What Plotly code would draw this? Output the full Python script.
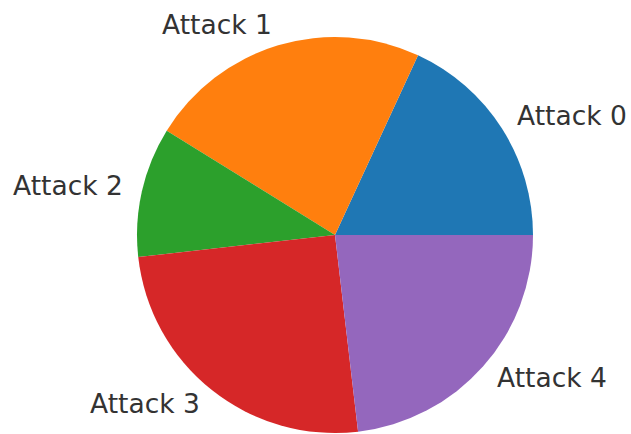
import math
import plotly.graph_objects as go

labels = ["Attack 0", "Attack 1", "Attack 2", "Attack 3", "Attack 4"]
values = [65.2, 83.0, 38.2, 90.3, 83.3]
colors = ["#1f77b4", "#ff7f0e", "#2ca02c", "#d62728", "#9467bd"]

W, H = 631, 434
cx, cy, r = 335, 235, 198

total = sum(values)
# plotly (counterclockwise): rotation marks the end of first slice
rot = 90 - 360 * values[0] / total

fig = go.Figure(go.Pie(
    labels=labels, values=values, sort=False, direction="counterclockwise",
    rotation=rot, marker=dict(colors=colors, line=dict(width=0)),
    textinfo="none", hoverinfo="label+percent", showlegend=False,
    domain=dict(x=[(cx - r) / W, (cx + r) / W], y=[(H - cy - r) / H, (H - cy + r) / H]),
))

acc = 0
anns = []
for lab, v in zip(labels, values):
    mid = (acc + v / 2) / total * 2 * math.pi
    acc += v
    px = cx + 1.1 * r * math.cos(mid)
    py = (H - cy) + 1.1 * r * math.sin(mid)
    right = math.cos(mid) > 0
    anns.append(dict(x=px / W, y=py / H, xref="paper", yref="paper", text=lab,
                     showarrow=False, xanchor="left" if right else "right",
                     yanchor="middle", borderpad=0, borderwidth=0,
                     xshift=-1 if right else 0, yshift=2,
                     font=dict(size=26.5, color="#333333", family="DejaVu Sans")))

fig.update_layout(width=W, height=H, margin=dict(l=0, r=0, t=0, b=0),
                  paper_bgcolor="white", plot_bgcolor="white", annotations=anns)
fig.write_html("out.html", config={"displayModeBar": False},
               post_script="document.body.style.margin='0';document.body.style.overflow='hidden';")
